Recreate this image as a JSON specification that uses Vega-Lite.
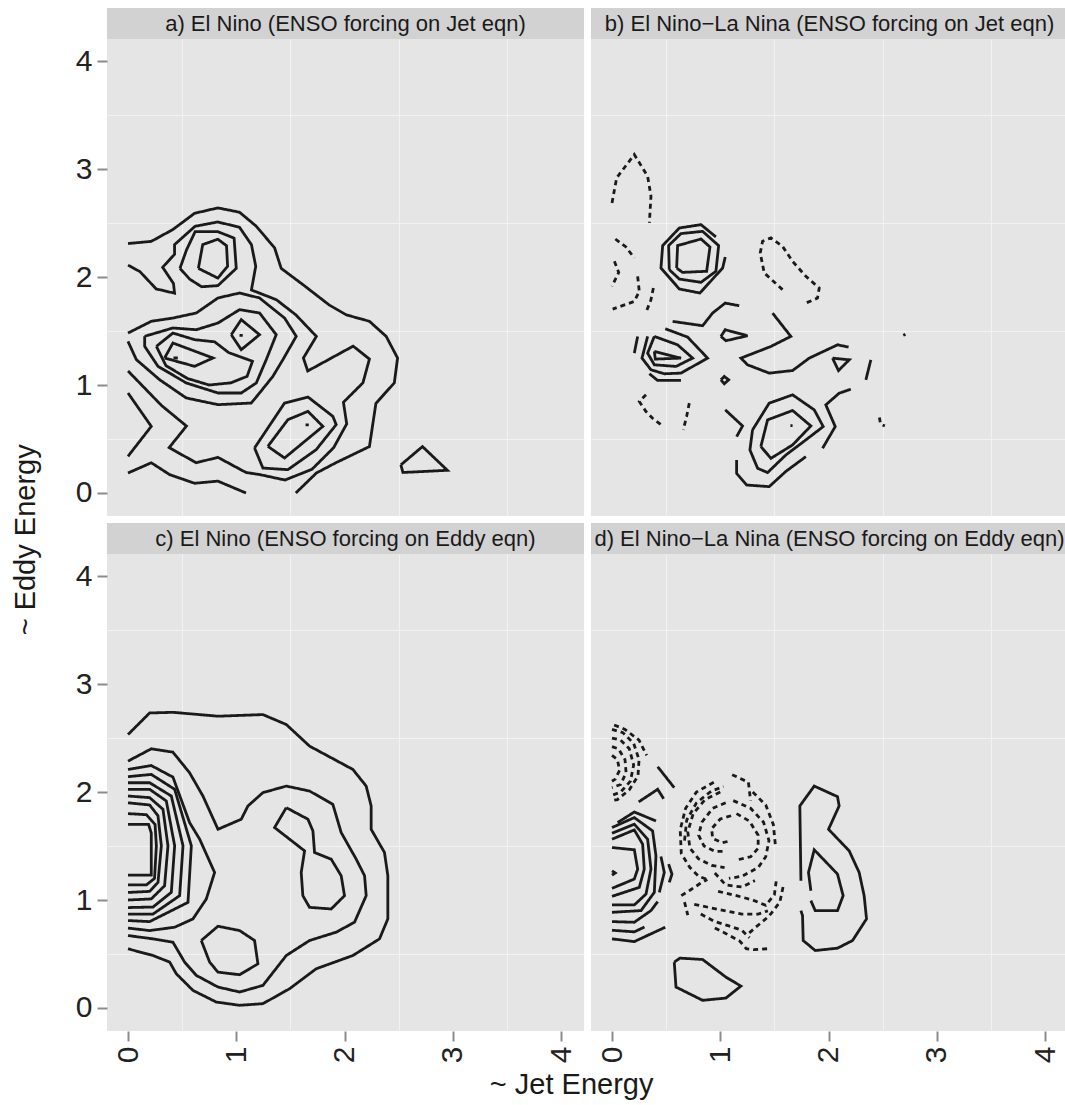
{
"$schema":"https://vega.github.io/schema/vega-lite/v6.json",
"background":"white",
"padding":{"left":12,"top":8,"right":0,"bottom":0},
"autosize":{"type":"pad"},
"config":{
 "view":{"stroke":null,"fill":"#e5e5e5"},
 "axis":{"domain":false,"grid":true,"gridColor":"#ffffff","gridWidth":2,"labelFont":"Liberation Sans","labelFontSize":30,"labelColor":"#222222","tickColor":"#8c8c8c","tickSize":10,"tickWidth":2,"labelPadding":5,"labelOverlap":false,"labelFlush":false},
 "axisX":{"labelAngle":270},
 "axisY":{"labelAngle":0},
 "title":{"font":"Liberation Sans","fontSize":29,"fontWeight":"normal","color":"#1a1a1a","anchor":"middle"}
},
"title":{"text":"~ Eddy Energy","orient":"left","offset":34,"anchor":"middle","dx":14},
"vconcat":[{
 "title":{"text":"~ Jet Energy","orient":"bottom","offset":8,"anchor":"middle"},
 "spacing":7,
 "vconcat":[
  {"spacing":7,"hconcat":[
   {"spacing":0,"vconcat":[
    {"width":477,"height":31,"view":{"fill":"#d2d2d2","stroke":null},"data":{"values":[{"t":"a) El Nino (ENSO forcing on Jet eqn)"}]},"mark":{"type":"text","font":"Liberation Sans","fontSize":22,"color":"#1a1a1a"},"encoding":{"text":{"field":"t","type":"nominal"}}},
    {"width":477,"height":477,"data":{"name":"c"},"transform":[{"filter":"datum.p=='a'"}],
     "layer":[
      {"mark":{"type":"point","opacity":0},"encoding":{
        "x":{"field":"x","type":"quantitative","scale":{"domain":[-0.194,4.212],"nice":false,"zero":false},"axis":{"orient":"top","values":[0.5,1.5,2.5,3.5],"labels":false,"ticks":false,"gridColor":"#f2f2f2","gridWidth":1,"title":null}},
        "y":{"field":"y","type":"quantitative","scale":{"domain":[-0.213,4.204],"nice":false,"zero":false},"axis":{"orient":"right","values":[0.5,1.5,2.5,3.5],"labels":false,"ticks":false,"gridColor":"#f2f2f2","gridWidth":1,"title":null}}}},
      {"mark":{"type":"line","color":"#1a1a1a","strokeWidth":2.8},"encoding":{
        "x":{"field":"x","type":"quantitative","scale":{"domain":[-0.194,4.212],"nice":false,"zero":false},"axis":{"orient":"bottom","values":[0,1,2,3,4],"labels":false,"ticks":false,"title":null}},
        "y":{"field":"y","type":"quantitative","scale":{"domain":[-0.213,4.204],"nice":false,"zero":false},"axis":{"orient":"left","values":[0,1,2,3,4],"title":null}},
        "detail":{"field":"g","type":"nominal"},
        "order":{"value":null},
        "strokeDash":{"field":"k","type":"nominal","scale":{"domain":["s","d"],"range":[[1,0],[5,4]]},"legend":null}}}
     ],
     "resolve":{"axis":{"x":"independent","y":"independent"}}}
   ]},
   {"spacing":0,"vconcat":[
    {"width":477,"height":31,"view":{"fill":"#d2d2d2","stroke":null},"data":{"values":[{"t":"b) El Nino−La Nina (ENSO forcing on Jet eqn)"}]},"mark":{"type":"text","font":"Liberation Sans","fontSize":22,"color":"#1a1a1a"},"encoding":{"text":{"field":"t","type":"nominal"}}},
    {"width":477,"height":477,"data":{"name":"c"},"transform":[{"filter":"datum.p=='b'"}],
     "layer":[
      {"mark":{"type":"point","opacity":0},"encoding":{
        "x":{"field":"x","type":"quantitative","scale":{"domain":[-0.194,4.212],"nice":false,"zero":false},"axis":{"orient":"top","values":[0.5,1.5,2.5,3.5],"labels":false,"ticks":false,"gridColor":"#f2f2f2","gridWidth":1,"title":null}},
        "y":{"field":"y","type":"quantitative","scale":{"domain":[-0.213,4.204],"nice":false,"zero":false},"axis":{"orient":"right","values":[0.5,1.5,2.5,3.5],"labels":false,"ticks":false,"gridColor":"#f2f2f2","gridWidth":1,"title":null}}}},
      {"mark":{"type":"line","color":"#1a1a1a","strokeWidth":2.8},"encoding":{
        "x":{"field":"x","type":"quantitative","scale":{"domain":[-0.194,4.212],"nice":false,"zero":false},"axis":{"orient":"bottom","values":[0,1,2,3,4],"labels":false,"ticks":false,"title":null}},
        "y":{"field":"y","type":"quantitative","scale":{"domain":[-0.213,4.204],"nice":false,"zero":false},"axis":{"orient":"left","values":[0,1,2,3,4],"labels":false,"ticks":false,"title":null}},
        "detail":{"field":"g","type":"nominal"},
        "order":{"value":null},
        "strokeDash":{"field":"k","type":"nominal","scale":{"domain":["s","d"],"range":[[1,0],[5,4]]},"legend":null}}}
     ],
     "resolve":{"axis":{"x":"independent","y":"independent"}}}
   ]}
  ]},
  {"spacing":7,"hconcat":[
   {"spacing":0,"vconcat":[
    {"width":477,"height":31,"view":{"fill":"#d2d2d2","stroke":null},"data":{"values":[{"t":"c) El Nino (ENSO forcing on Eddy eqn)"}]},"mark":{"type":"text","font":"Liberation Sans","fontSize":22,"color":"#1a1a1a"},"encoding":{"text":{"field":"t","type":"nominal"}}},
    {"width":477,"height":477,"data":{"name":"c"},"transform":[{"filter":"datum.p=='c'"}],
     "layer":[
      {"mark":{"type":"point","opacity":0},"encoding":{
        "x":{"field":"x","type":"quantitative","scale":{"domain":[-0.194,4.212],"nice":false,"zero":false},"axis":{"orient":"top","values":[0.5,1.5,2.5,3.5],"labels":false,"ticks":false,"gridColor":"#f2f2f2","gridWidth":1,"title":null}},
        "y":{"field":"y","type":"quantitative","scale":{"domain":[-0.213,4.204],"nice":false,"zero":false},"axis":{"orient":"right","values":[0.5,1.5,2.5,3.5],"labels":false,"ticks":false,"gridColor":"#f2f2f2","gridWidth":1,"title":null}}}},
      {"mark":{"type":"line","color":"#1a1a1a","strokeWidth":2.8},"encoding":{
        "x":{"field":"x","type":"quantitative","scale":{"domain":[-0.194,4.212],"nice":false,"zero":false},"axis":{"orient":"bottom","values":[0,1,2,3,4],"title":null}},
        "y":{"field":"y","type":"quantitative","scale":{"domain":[-0.213,4.204],"nice":false,"zero":false},"axis":{"orient":"left","values":[0,1,2,3,4],"title":null}},
        "detail":{"field":"g","type":"nominal"},
        "order":{"value":null},
        "strokeDash":{"field":"k","type":"nominal","scale":{"domain":["s","d"],"range":[[1,0],[5,4]]},"legend":null}}}
     ],
     "resolve":{"axis":{"x":"independent","y":"independent"}}}
   ]},
   {"spacing":0,"vconcat":[
    {"width":477,"height":31,"view":{"fill":"#d2d2d2","stroke":null},"data":{"values":[{"t":"d) El Nino−La Nina (ENSO forcing on Eddy eqn)"}]},"mark":{"type":"text","font":"Liberation Sans","fontSize":22,"color":"#1a1a1a"},"encoding":{"text":{"field":"t","type":"nominal"}}},
    {"width":477,"height":477,"data":{"name":"c"},"transform":[{"filter":"datum.p=='d'"}],
     "layer":[
      {"mark":{"type":"point","opacity":0},"encoding":{
        "x":{"field":"x","type":"quantitative","scale":{"domain":[-0.194,4.212],"nice":false,"zero":false},"axis":{"orient":"top","values":[0.5,1.5,2.5,3.5],"labels":false,"ticks":false,"gridColor":"#f2f2f2","gridWidth":1,"title":null}},
        "y":{"field":"y","type":"quantitative","scale":{"domain":[-0.213,4.204],"nice":false,"zero":false},"axis":{"orient":"right","values":[0.5,1.5,2.5,3.5],"labels":false,"ticks":false,"gridColor":"#f2f2f2","gridWidth":1,"title":null}}}},
      {"mark":{"type":"line","color":"#1a1a1a","strokeWidth":2.8},"encoding":{
        "x":{"field":"x","type":"quantitative","scale":{"domain":[-0.194,4.212],"nice":false,"zero":false},"axis":{"orient":"bottom","values":[0,1,2,3,4],"title":null}},
        "y":{"field":"y","type":"quantitative","scale":{"domain":[-0.213,4.204],"nice":false,"zero":false},"axis":{"orient":"left","values":[0,1,2,3,4],"labels":false,"ticks":false,"title":null}},
        "detail":{"field":"g","type":"nominal"},
        "order":{"value":null},
        "strokeDash":{"field":"k","type":"nominal","scale":{"domain":["s","d"],"range":[[1,0],[5,4]]},"legend":null}}}
     ],
     "resolve":{"axis":{"x":"independent","y":"independent"}}}
   ]}
  ]}
 ]
}],
"datasets":{"c":[
{"p":"a","g":"a1","k":"s","x":0,"y":2.31},{"p":"a","g":"a1","k":"s","x":0.215,"y":2.33},{"p":"a","g":"a1","k":"s","x":0.415,"y":2.44},{"p":"a","g":"a1","k":"s","x":0.615,"y":2.59},{"p":"a","g":"a1","k":"s","x":0.83,"y":2.64},{"p":"a","g":"a1","k":"s","x":1.03,"y":2.6},{"p":"a","g":"a1","k":"s","x":1.185,"y":2.47},{"p":"a","g":"a1","k":"s","x":1.354,"y":2.27},{"p":"a","g":"a1","k":"s","x":1.415,"y":2.08},{"p":"a","g":"a1","k":"s","x":1.615,"y":1.93},{"p":"a","g":"a1","k":"s","x":1.86,"y":1.74},{"p":"a","g":"a1","k":"s","x":2.015,"y":1.65},{"p":"a","g":"a1","k":"s","x":2.23,"y":1.59},{"p":"a","g":"a1","k":"s","x":2.385,"y":1.45},{"p":"a","g":"a1","k":"s","x":2.49,"y":1.25},{"p":"a","g":"a1","k":"s","x":2.46,"y":1.02},{"p":"a","g":"a1","k":"s","x":2.29,"y":0.83},{"p":"a","g":"a1","k":"s","x":2.23,"y":0.43},{"p":"a","g":"a1","k":"s","x":1.92,"y":0.28},{"p":"a","g":"a1","k":"s","x":1.74,"y":0.185},{"p":"a","g":"a1","k":"s","x":1.55,"y":0},
{"p":"a","g":"a1b","k":"s","x":0,"y":0.185},{"p":"a","g":"a1b","k":"s","x":0.215,"y":0.28},{"p":"a","g":"a1b","k":"s","x":0.385,"y":0.17},{"p":"a","g":"a1b","k":"s","x":0.615,"y":0.09},{"p":"a","g":"a1b","k":"s","x":0.83,"y":0.11},{"p":"a","g":"a1b","k":"s","x":1.09,"y":0},
{"p":"a","g":"av","k":"s","x":0,"y":0.926},{"p":"a","g":"av","k":"s","x":0.215,"y":0.617},{"p":"a","g":"av","k":"s","x":0,"y":0.34},
{"p":"a","g":"a2","k":"s","x":0,"y":2.11},{"p":"a","g":"a2","k":"s","x":0.11,"y":2.05},{"p":"a","g":"a2","k":"s","x":0.26,"y":1.89},{"p":"a","g":"a2","k":"s","x":0.43,"y":1.85},{"p":"a","g":"a2","k":"s","x":0.42,"y":1.94},{"p":"a","g":"a2","k":"s","x":0.32,"y":2.09},{"p":"a","g":"a2","k":"s","x":0.43,"y":2.21},{"p":"a","g":"a2","k":"s","x":0.43,"y":2.3},{"p":"a","g":"a2","k":"s","x":0.62,"y":2.47},{"p":"a","g":"a2","k":"s","x":0.83,"y":2.51},{"p":"a","g":"a2","k":"s","x":1.03,"y":2.46},{"p":"a","g":"a2","k":"s","x":1.14,"y":2.3},{"p":"a","g":"a2","k":"s","x":1.18,"y":2.1},{"p":"a","g":"a2","k":"s","x":1.14,"y":1.88},{"p":"a","g":"a2","k":"s","x":1.37,"y":1.79},{"p":"a","g":"a2","k":"s","x":1.55,"y":1.65},{"p":"a","g":"a2","k":"s","x":1.74,"y":1.45},{"p":"a","g":"a2","k":"s","x":1.62,"y":1.25},{"p":"a","g":"a2","k":"s","x":1.66,"y":1.13},{"p":"a","g":"a2","k":"s","x":2.08,"y":1.36},{"p":"a","g":"a2","k":"s","x":2.23,"y":1.24},{"p":"a","g":"a2","k":"s","x":2.17,"y":1.02},{"p":"a","g":"a2","k":"s","x":1.99,"y":0.84},{"p":"a","g":"a2","k":"s","x":2.02,"y":0.64},{"p":"a","g":"a2","k":"s","x":1.9,"y":0.42},{"p":"a","g":"a2","k":"s","x":1.7,"y":0.22},{"p":"a","g":"a2","k":"s","x":1.45,"y":0.12},{"p":"a","g":"a2","k":"s","x":1.22,"y":0.17},{"p":"a","g":"a2","k":"s","x":1.09,"y":0.19},{"p":"a","g":"a2","k":"s","x":0.83,"y":0.33},{"p":"a","g":"a2","k":"s","x":0.63,"y":0.28},{"p":"a","g":"a2","k":"s","x":0.38,"y":0.42},{"p":"a","g":"a2","k":"s","x":0.54,"y":0.62},{"p":"a","g":"a2","k":"s","x":0.31,"y":0.81},{"p":"a","g":"a2","k":"s","x":0,"y":1.13},
{"p":"a","g":"a3","k":"s","x":0.48,"y":2.08},{"p":"a","g":"a3","k":"s","x":0.54,"y":2.25},{"p":"a","g":"a3","k":"s","x":0.62,"y":2.42},{"p":"a","g":"a3","k":"s","x":0.83,"y":2.42},{"p":"a","g":"a3","k":"s","x":0.98,"y":2.36},{"p":"a","g":"a3","k":"s","x":1,"y":2.08},{"p":"a","g":"a3","k":"s","x":0.83,"y":1.92},{"p":"a","g":"a3","k":"s","x":0.68,"y":1.91},{"p":"a","g":"a3","k":"s","x":0.57,"y":1.98},{"p":"a","g":"a3","k":"s","x":0.48,"y":2.08},
{"p":"a","g":"a4","k":"s","x":0.65,"y":2.08},{"p":"a","g":"a4","k":"s","x":0.69,"y":2.3},{"p":"a","g":"a4","k":"s","x":0.83,"y":2.35},{"p":"a","g":"a4","k":"s","x":0.91,"y":2.29},{"p":"a","g":"a4","k":"s","x":0.92,"y":2.1},{"p":"a","g":"a4","k":"s","x":0.83,"y":1.99},{"p":"a","g":"a4","k":"s","x":0.65,"y":2.08},
{"p":"a","g":"a5","k":"s","x":0,"y":1.481},{"p":"a","g":"a5","k":"s","x":0.215,"y":1.59},{"p":"a","g":"a5","k":"s","x":0.415,"y":1.62},{"p":"a","g":"a5","k":"s","x":0.631,"y":1.667},{"p":"a","g":"a5","k":"s","x":0.831,"y":1.806},{"p":"a","g":"a5","k":"s","x":1.031,"y":1.852},{"p":"a","g":"a5","k":"s","x":1.215,"y":1.806},{"p":"a","g":"a5","k":"s","x":1.446,"y":1.62},{"p":"a","g":"a5","k":"s","x":1.554,"y":1.451},{"p":"a","g":"a5","k":"s","x":1.431,"y":1.235},{"p":"a","g":"a5","k":"s","x":1.338,"y":1.08},{"p":"a","g":"a5","k":"s","x":1.215,"y":0.926},{"p":"a","g":"a5","k":"s","x":1.138,"y":0.833},{"p":"a","g":"a5","k":"s","x":0.831,"y":0.818},{"p":"a","g":"a5","k":"s","x":0.538,"y":0.88},{"p":"a","g":"a5","k":"s","x":0.292,"y":1.049},{"p":"a","g":"a5","k":"s","x":0.077,"y":1.235},{"p":"a","g":"a5","k":"s","x":0,"y":1.404},
{"p":"a","g":"a6","k":"s","x":0.154,"y":1.451},{"p":"a","g":"a6","k":"s","x":0.415,"y":1.528},{"p":"a","g":"a6","k":"s","x":0.631,"y":1.512},{"p":"a","g":"a6","k":"s","x":0.831,"y":1.574},{"p":"a","g":"a6","k":"s","x":1.031,"y":1.698},{"p":"a","g":"a6","k":"s","x":1.215,"y":1.667},{"p":"a","g":"a6","k":"s","x":1.369,"y":1.466},{"p":"a","g":"a6","k":"s","x":1.277,"y":1.235},{"p":"a","g":"a6","k":"s","x":1.185,"y":1.019},{"p":"a","g":"a6","k":"s","x":1.046,"y":0.926},{"p":"a","g":"a6","k":"s","x":0.831,"y":0.926},{"p":"a","g":"a6","k":"s","x":0.538,"y":1.019},{"p":"a","g":"a6","k":"s","x":0.277,"y":1.173},{"p":"a","g":"a6","k":"s","x":0.154,"y":1.358},{"p":"a","g":"a6","k":"s","x":0.154,"y":1.451},
{"p":"a","g":"a7","k":"s","x":0.262,"y":1.358},{"p":"a","g":"a7","k":"s","x":0.415,"y":1.481},{"p":"a","g":"a7","k":"s","x":0.615,"y":1.42},{"p":"a","g":"a7","k":"s","x":0.8,"y":1.4},{"p":"a","g":"a7","k":"s","x":0.93,"y":1.3},{"p":"a","g":"a7","k":"s","x":1.15,"y":1.22},{"p":"a","g":"a7","k":"s","x":1.1,"y":1.08},{"p":"a","g":"a7","k":"s","x":0.95,"y":1.02},{"p":"a","g":"a7","k":"s","x":0.75,"y":1},{"p":"a","g":"a7","k":"s","x":0.55,"y":1.06},{"p":"a","g":"a7","k":"s","x":0.35,"y":1.18},{"p":"a","g":"a7","k":"s","x":0.262,"y":1.358},
{"p":"a","g":"a8","k":"s","x":0.338,"y":1.25},{"p":"a","g":"a8","k":"s","x":0.415,"y":1.389},{"p":"a","g":"a8","k":"s","x":0.785,"y":1.25},{"p":"a","g":"a8","k":"s","x":0.615,"y":1.173},{"p":"a","g":"a8","k":"s","x":0.338,"y":1.25},
{"p":"a","g":"a9","k":"s","x":0.954,"y":1.466},{"p":"a","g":"a9","k":"s","x":1.046,"y":1.605},{"p":"a","g":"a9","k":"s","x":1.215,"y":1.466},{"p":"a","g":"a9","k":"s","x":1.046,"y":1.327},{"p":"a","g":"a9","k":"s","x":0.954,"y":1.466},
{"p":"a","g":"a10","k":"s","x":0.42,"y":1.25},{"p":"a","g":"a10","k":"s","x":0.46,"y":1.25},
{"p":"a","g":"a11","k":"s","x":1.03,"y":1.46},{"p":"a","g":"a11","k":"s","x":1.06,"y":1.46},
{"p":"a","g":"a12","k":"s","x":1.292,"y":0.432},{"p":"a","g":"a12","k":"s","x":1.477,"y":0.679},{"p":"a","g":"a12","k":"s","x":1.662,"y":0.756},{"p":"a","g":"a12","k":"s","x":1.8,"y":0.617},{"p":"a","g":"a12","k":"s","x":1.446,"y":0.324},{"p":"a","g":"a12","k":"s","x":1.292,"y":0.432},
{"p":"a","g":"a13","k":"s","x":1.169,"y":0.417},{"p":"a","g":"a13","k":"s","x":1.446,"y":0.833},{"p":"a","g":"a13","k":"s","x":1.662,"y":0.889},{"p":"a","g":"a13","k":"s","x":1.892,"y":0.71},{"p":"a","g":"a13","k":"s","x":1.923,"y":0.633},{"p":"a","g":"a13","k":"s","x":1.738,"y":0.401},{"p":"a","g":"a13","k":"s","x":1.477,"y":0.216},{"p":"a","g":"a13","k":"s","x":1.246,"y":0.231},{"p":"a","g":"a13","k":"s","x":1.169,"y":0.417},
{"p":"a","g":"a15","k":"s","x":1.64,"y":0.63},{"p":"a","g":"a15","k":"s","x":1.67,"y":0.63},
{"p":"a","g":"a16","k":"s","x":2.52,"y":0.26},{"p":"a","g":"a16","k":"s","x":2.72,"y":0.43},{"p":"a","g":"a16","k":"s","x":2.95,"y":0.21},{"p":"a","g":"a16","k":"s","x":2.54,"y":0.19},{"p":"a","g":"a16","k":"s","x":2.52,"y":0.26},

{"p":"b","g":"bd1","k":"d","x":0,"y":2.686},{"p":"b","g":"bd1","k":"d","x":0.043,"y":2.918},{"p":"b","g":"bd1","k":"d","x":0.206,"y":3.134},{"p":"b","g":"bd1","k":"d","x":0.329,"y":2.933},{"p":"b","g":"bd1","k":"d","x":0.36,"y":2.748},{"p":"b","g":"bd1","k":"d","x":0.345,"y":2.501},
{"p":"b","g":"bd2","k":"d","x":0.031,"y":2.352},{"p":"b","g":"bd2","k":"d","x":0.129,"y":2.278},{"p":"b","g":"bd2","k":"d","x":0.206,"y":2.176},
{"p":"b","g":"bd3","k":"d","x":0.022,"y":2.145},{"p":"b","g":"bd3","k":"d","x":0.062,"y":2.043},{"p":"b","g":"bd3","k":"d","x":0,"y":1.913},
{"p":"b","g":"bd4","k":"d","x":0.237,"y":2.006},{"p":"b","g":"bd4","k":"d","x":0.252,"y":1.867},{"p":"b","g":"bd4","k":"d","x":0.206,"y":1.774},{"p":"b","g":"bd4","k":"d","x":0.006,"y":1.703},
{"p":"b","g":"bd5","k":"d","x":0.382,"y":1.898},{"p":"b","g":"bd5","k":"d","x":0.36,"y":1.79},{"p":"b","g":"bd5","k":"d","x":0.314,"y":1.672},
{"p":"b","g":"bd6","k":"d","x":1.575,"y":1.883},{"p":"b","g":"bd6","k":"d","x":1.406,"y":2.038},{"p":"b","g":"bd6","k":"d","x":1.369,"y":2.223},{"p":"b","g":"bd6","k":"d","x":1.391,"y":2.331},{"p":"b","g":"bd6","k":"d","x":1.468,"y":2.362},{"p":"b","g":"bd6","k":"d","x":1.575,"y":2.284},{"p":"b","g":"bd6","k":"d","x":1.668,"y":2.145},{"p":"b","g":"bd6","k":"d","x":1.791,"y":2.006},{"p":"b","g":"bd6","k":"d","x":1.914,"y":1.898},{"p":"b","g":"bd6","k":"d","x":1.898,"y":1.805},{"p":"b","g":"bd6","k":"d","x":1.791,"y":1.759},
{"p":"b","g":"bd7","k":"d","x":0.314,"y":0.909},{"p":"b","g":"bd7","k":"d","x":0.252,"y":0.847},{"p":"b","g":"bd7","k":"d","x":0.314,"y":0.754},{"p":"b","g":"bd7","k":"d","x":0.375,"y":0.692},{"p":"b","g":"bd7","k":"d","x":0.468,"y":0.621},
{"p":"b","g":"bd8","k":"d","x":0.714,"y":0.832},{"p":"b","g":"bd8","k":"d","x":0.689,"y":0.708},{"p":"b","g":"bd8","k":"d","x":0.658,"y":0.584},
{"p":"b","g":"bd9","k":"d","x":2.47,"y":0.7},{"p":"b","g":"bd9","k":"d","x":2.48,"y":0.64},{"p":"b","g":"bd9","k":"d","x":2.52,"y":0.62},
{"p":"b","g":"bs1","k":"s","x":0.96,"y":2.371},{"p":"b","g":"bs1","k":"s","x":0.822,"y":2.485},{"p":"b","g":"bs1","k":"s","x":0.622,"y":2.454},{"p":"b","g":"bs1","k":"s","x":0.468,"y":2.291},{"p":"b","g":"bs1","k":"s","x":0.452,"y":2.083},{"p":"b","g":"bs1","k":"s","x":0.622,"y":1.889},{"p":"b","g":"bs1","k":"s","x":0.812,"y":1.852},{"p":"b","g":"bs1","k":"s","x":1.022,"y":2.083},{"p":"b","g":"bs1","k":"s","x":1.046,"y":2.185},
{"p":"b","g":"bs2","k":"s","x":0.529,"y":2.068},{"p":"b","g":"bs2","k":"s","x":0.523,"y":2.291},{"p":"b","g":"bs2","k":"s","x":0.637,"y":2.402},{"p":"b","g":"bs2","k":"s","x":0.837,"y":2.423},{"p":"b","g":"bs2","k":"s","x":0.985,"y":2.291},{"p":"b","g":"bs2","k":"s","x":0.96,"y":2.053},{"p":"b","g":"bs2","k":"s","x":0.822,"y":1.951},{"p":"b","g":"bs2","k":"s","x":0.622,"y":1.981},{"p":"b","g":"bs2","k":"s","x":0.529,"y":2.068},
{"p":"b","g":"bs3","k":"s","x":0.597,"y":2.083},{"p":"b","g":"bs3","k":"s","x":0.606,"y":2.291},{"p":"b","g":"bs3","k":"s","x":0.822,"y":2.352},{"p":"b","g":"bs3","k":"s","x":0.905,"y":2.278},{"p":"b","g":"bs3","k":"s","x":0.874,"y":2.053},{"p":"b","g":"bs3","k":"s","x":0.652,"y":2.043},{"p":"b","g":"bs3","k":"s","x":0.597,"y":2.083},
{"p":"b","g":"bs4","k":"s","x":0.56,"y":1.589},{"p":"b","g":"bs4","k":"s","x":0.837,"y":1.549},{"p":"b","g":"bs4","k":"s","x":0.929,"y":1.666},{"p":"b","g":"bs4","k":"s","x":1.046,"y":1.759},{"p":"b","g":"bs4","k":"s","x":1.175,"y":1.734},
{"p":"b","g":"bs5","k":"s","x":1.006,"y":1.45},{"p":"b","g":"bs5","k":"s","x":1.046,"y":1.512},{"p":"b","g":"bs5","k":"s","x":1.252,"y":1.456},{"p":"b","g":"bs5","k":"s","x":1.052,"y":1.41},{"p":"b","g":"bs5","k":"s","x":1.006,"y":1.45},
{"p":"b","g":"bs6","k":"s","x":1.483,"y":1.666},{"p":"b","g":"bs6","k":"s","x":1.652,"y":1.45},{"p":"b","g":"bs6","k":"s","x":1.468,"y":1.357},{"p":"b","g":"bs6","k":"s","x":1.191,"y":1.249},{"p":"b","g":"bs6","k":"s","x":1.252,"y":1.187},{"p":"b","g":"bs6","k":"s","x":1.452,"y":1.11},{"p":"b","g":"bs6","k":"s","x":1.668,"y":1.134},{"p":"b","g":"bs6","k":"s","x":1.822,"y":1.249},{"p":"b","g":"bs6","k":"s","x":2.083,"y":1.372},{"p":"b","g":"bs6","k":"s","x":2.185,"y":1.351},
{"p":"b","g":"bs7","k":"s","x":2.037,"y":1.249},{"p":"b","g":"bs7","k":"s","x":2.191,"y":1.233},{"p":"b","g":"bs7","k":"s","x":2.092,"y":1.134},{"p":"b","g":"bs7","k":"s","x":2.037,"y":1.249},
{"p":"b","g":"bs8","k":"s","x":2.391,"y":1.233},{"p":"b","g":"bs8","k":"s","x":2.345,"y":1.048},
{"p":"b","g":"bs9","k":"s","x":0.206,"y":1.295},{"p":"b","g":"bs9","k":"s","x":0.237,"y":1.45},
{"p":"b","g":"bs10","k":"s","x":0.329,"y":1.45},{"p":"b","g":"bs10","k":"s","x":0.277,"y":1.249},{"p":"b","g":"bs10","k":"s","x":0.36,"y":1.141},{"p":"b","g":"bs10","k":"s","x":0.483,"y":1.104},{"p":"b","g":"bs10","k":"s","x":0.637,"y":1.11},{"p":"b","g":"bs10","k":"s","x":0.883,"y":1.249},{"p":"b","g":"bs10","k":"s","x":0.698,"y":1.444},{"p":"b","g":"bs10","k":"s","x":0.492,"y":1.521},
{"p":"b","g":"bs11","k":"s","x":0.391,"y":1.45},{"p":"b","g":"bs11","k":"s","x":0.329,"y":1.295},{"p":"b","g":"bs11","k":"s","x":0.391,"y":1.187},{"p":"b","g":"bs11","k":"s","x":0.591,"y":1.172},{"p":"b","g":"bs11","k":"s","x":0.745,"y":1.249},{"p":"b","g":"bs11","k":"s","x":0.606,"y":1.372},{"p":"b","g":"bs11","k":"s","x":0.391,"y":1.45},
{"p":"b","g":"bs12","k":"s","x":0.391,"y":1.311},{"p":"b","g":"bs12","k":"s","x":0.4,"y":1.24},{"p":"b","g":"bs12","k":"s","x":0.637,"y":1.249},{"p":"b","g":"bs12","k":"s","x":0.391,"y":1.311},
{"p":"b","g":"bs13","k":"s","x":0.345,"y":1.104},{"p":"b","g":"bs13","k":"s","x":0.422,"y":1.042},{"p":"b","g":"bs13","k":"s","x":0.637,"y":1.042},
{"p":"b","g":"bs14","k":"s","x":1.006,"y":1.048},{"p":"b","g":"bs14","k":"s","x":1.037,"y":1.079},{"p":"b","g":"bs14","k":"s","x":1.077,"y":1.048},{"p":"b","g":"bs14","k":"s","x":1.037,"y":1.011},{"p":"b","g":"bs14","k":"s","x":1.006,"y":1.048},
{"p":"b","g":"bs15","k":"s","x":1.046,"y":0.77},{"p":"b","g":"bs15","k":"s","x":1.206,"y":0.621},{"p":"b","g":"bs15","k":"s","x":1.151,"y":0.522},
{"p":"b","g":"bs16","k":"s","x":1.375,"y":0.43},{"p":"b","g":"bs16","k":"s","x":1.437,"y":0.677},{"p":"b","g":"bs16","k":"s","x":1.668,"y":0.764},{"p":"b","g":"bs16","k":"s","x":1.837,"y":0.621},{"p":"b","g":"bs16","k":"s","x":1.668,"y":0.445},{"p":"b","g":"bs16","k":"s","x":1.468,"y":0.321},{"p":"b","g":"bs16","k":"s","x":1.375,"y":0.43},
{"p":"b","g":"bs17","k":"s","x":1.298,"y":0.584},{"p":"b","g":"bs17","k":"s","x":1.452,"y":0.832},{"p":"b","g":"bs17","k":"s","x":1.668,"y":0.909},{"p":"b","g":"bs17","k":"s","x":1.868,"y":0.77},{"p":"b","g":"bs17","k":"s","x":1.951,"y":0.615},{"p":"b","g":"bs17","k":"s","x":1.791,"y":0.492},{"p":"b","g":"bs17","k":"s","x":1.606,"y":0.352},{"p":"b","g":"bs17","k":"s","x":1.437,"y":0.189},{"p":"b","g":"bs17","k":"s","x":1.345,"y":0.229},{"p":"b","g":"bs17","k":"s","x":1.274,"y":0.399},{"p":"b","g":"bs17","k":"s","x":1.298,"y":0.584},
{"p":"b","g":"bs18","k":"s","x":1.648,"y":0.624},{"p":"b","g":"bs18","k":"s","x":1.668,"y":0.624},
{"p":"b","g":"bs19","k":"s","x":1.151,"y":0.306},{"p":"b","g":"bs19","k":"s","x":1.151,"y":0.182},{"p":"b","g":"bs19","k":"s","x":1.243,"y":0.074},{"p":"b","g":"bs19","k":"s","x":1.452,"y":0.059},{"p":"b","g":"bs19","k":"s","x":1.606,"y":0.2},{"p":"b","g":"bs19","k":"s","x":1.791,"y":0.337},
{"p":"b","g":"bs20","k":"s","x":2.206,"y":0.961},{"p":"b","g":"bs20","k":"s","x":2.098,"y":0.924},{"p":"b","g":"bs20","k":"s","x":1.975,"y":0.816},{"p":"b","g":"bs20","k":"s","x":2.062,"y":0.615},{"p":"b","g":"bs20","k":"s","x":1.945,"y":0.414},
{"p":"b","g":"bs21","k":"s","x":2.69,"y":1.46},{"p":"b","g":"bs21","k":"s","x":2.71,"y":1.47},

{"p":"c","g":"c1","k":"s","x":0,"y":2.532},{"p":"c","g":"c1","k":"s","x":0.2,"y":2.732},{"p":"c","g":"c1","k":"s","x":0.415,"y":2.738},{"p":"c","g":"c1","k":"s","x":0.831,"y":2.702},{"p":"c","g":"c1","k":"s","x":1.246,"y":2.717},{"p":"c","g":"c1","k":"s","x":1.462,"y":2.625},{"p":"c","g":"c1","k":"s","x":1.677,"y":2.425},{"p":"c","g":"c1","k":"s","x":2.077,"y":2.209},{"p":"c","g":"c1","k":"s","x":2.2,"y":2.055},{"p":"c","g":"c1","k":"s","x":2.246,"y":1.871},{"p":"c","g":"c1","k":"s","x":2.246,"y":1.655},{"p":"c","g":"c1","k":"s","x":2.369,"y":1.44},{"p":"c","g":"c1","k":"s","x":2.4,"y":1.225},{"p":"c","g":"c1","k":"s","x":2.4,"y":0.825},{"p":"c","g":"c1","k":"s","x":2.323,"y":0.64},{"p":"c","g":"c1","k":"s","x":2.077,"y":0.486},{"p":"c","g":"c1","k":"s","x":1.738,"y":0.363},{"p":"c","g":"c1","k":"s","x":1.492,"y":0.178},{"p":"c","g":"c1","k":"s","x":1.246,"y":0.04},{"p":"c","g":"c1","k":"s","x":1.031,"y":0.025},{"p":"c","g":"c1","k":"s","x":0.815,"y":0.055},{"p":"c","g":"c1","k":"s","x":0.6,"y":0.163},{"p":"c","g":"c1","k":"s","x":0.446,"y":0.317},{"p":"c","g":"c1","k":"s","x":0.385,"y":0.425},{"p":"c","g":"c1","k":"s","x":0.231,"y":0.486},{"p":"c","g":"c1","k":"s","x":0,"y":0.548},
{"p":"c","g":"c2","k":"s","x":0,"y":2.286},{"p":"c","g":"c2","k":"s","x":0.215,"y":2.4},{"p":"c","g":"c2","k":"s","x":0.415,"y":2.369},{"p":"c","g":"c2","k":"s","x":0.569,"y":2.178},{"p":"c","g":"c2","k":"s","x":0.692,"y":1.963},{"p":"c","g":"c2","k":"s","x":0.831,"y":1.655},{"p":"c","g":"c2","k":"s","x":1.046,"y":1.748},{"p":"c","g":"c2","k":"s","x":1.108,"y":1.871},{"p":"c","g":"c2","k":"s","x":1.246,"y":1.994},{"p":"c","g":"c2","k":"s","x":1.462,"y":2.055},{"p":"c","g":"c2","k":"s","x":1.677,"y":2.009},{"p":"c","g":"c2","k":"s","x":1.892,"y":1.886},{"p":"c","g":"c2","k":"s","x":1.969,"y":1.625},{"p":"c","g":"c2","k":"s","x":2.108,"y":1.378},{"p":"c","g":"c2","k":"s","x":2.185,"y":1.225},{"p":"c","g":"c2","k":"s","x":2.2,"y":1.04},{"p":"c","g":"c2","k":"s","x":2.092,"y":0.794},{"p":"c","g":"c2","k":"s","x":1.923,"y":0.702},{"p":"c","g":"c2","k":"s","x":1.677,"y":0.625},{"p":"c","g":"c2","k":"s","x":1.462,"y":0.486},{"p":"c","g":"c2","k":"s","x":1.246,"y":0.209},{"p":"c","g":"c2","k":"s","x":1.031,"y":0.148},{"p":"c","g":"c2","k":"s","x":0.831,"y":0.194},{"p":"c","g":"c2","k":"s","x":0.631,"y":0.302},{"p":"c","g":"c2","k":"s","x":0.523,"y":0.425},{"p":"c","g":"c2","k":"s","x":0.415,"y":0.609},{"p":"c","g":"c2","k":"s","x":0.231,"y":0.64},{"p":"c","g":"c2","k":"s","x":0,"y":0.671},
{"p":"c","g":"c3","k":"s","x":1.462,"y":1.855},{"p":"c","g":"c3","k":"s","x":1.354,"y":1.671},{"p":"c","g":"c3","k":"s","x":1.631,"y":1.455},{"p":"c","g":"c3","k":"s","x":1.6,"y":1.255},{"p":"c","g":"c3","k":"s","x":1.615,"y":1.04},{"p":"c","g":"c3","k":"s","x":1.677,"y":0.932},{"p":"c","g":"c3","k":"s","x":1.877,"y":0.917},{"p":"c","g":"c3","k":"s","x":2,"y":1.04},{"p":"c","g":"c3","k":"s","x":1.969,"y":1.225},{"p":"c","g":"c3","k":"s","x":1.877,"y":1.378},{"p":"c","g":"c3","k":"s","x":1.723,"y":1.44},{"p":"c","g":"c3","k":"s","x":1.708,"y":1.64},{"p":"c","g":"c3","k":"s","x":1.662,"y":1.748},{"p":"c","g":"c3","k":"s","x":1.462,"y":1.855},
{"p":"c","g":"c4","k":"s","x":0.677,"y":0.625},{"p":"c","g":"c4","k":"s","x":0.831,"y":0.757},{"p":"c","g":"c4","k":"s","x":1.031,"y":0.717},{"p":"c","g":"c4","k":"s","x":1.169,"y":0.625},{"p":"c","g":"c4","k":"s","x":1.2,"y":0.409},{"p":"c","g":"c4","k":"s","x":1.031,"y":0.308},{"p":"c","g":"c4","k":"s","x":0.831,"y":0.332},{"p":"c","g":"c4","k":"s","x":0.754,"y":0.425},{"p":"c","g":"c4","k":"s","x":0.677,"y":0.625},
{"p":"c","g":"c5","k":"s","x":0,"y":2.209},{"p":"c","g":"c5","k":"s","x":0.215,"y":2.245},{"p":"c","g":"c5","k":"s","x":0.415,"y":2.138},{"p":"c","g":"c5","k":"s","x":0.569,"y":1.717},{"p":"c","g":"c5","k":"s","x":0.662,"y":1.563},{"p":"c","g":"c5","k":"s","x":0.8,"y":1.255},{"p":"c","g":"c5","k":"s","x":0.723,"y":1.009},{"p":"c","g":"c5","k":"s","x":0.6,"y":0.825},{"p":"c","g":"c5","k":"s","x":0.431,"y":0.748},{"p":"c","g":"c5","k":"s","x":0.2,"y":0.717},{"p":"c","g":"c5","k":"s","x":0,"y":0.74},
{"p":"c","g":"c6","k":"s","x":0,"y":2.142},{"p":"c","g":"c6","k":"s","x":0.215,"y":2.163},{"p":"c","g":"c6","k":"s","x":0.431,"y":2.025},{"p":"c","g":"c6","k":"s","x":0.585,"y":1.502},{"p":"c","g":"c6","k":"s","x":0.554,"y":0.978},{"p":"c","g":"c6","k":"s","x":0.2,"y":0.8},{"p":"c","g":"c6","k":"s","x":0,"y":0.81},
{"p":"c","g":"c7","k":"s","x":0,"y":2.086},{"p":"c","g":"c7","k":"s","x":0.2,"y":2.086},{"p":"c","g":"c7","k":"s","x":0.4,"y":1.963},{"p":"c","g":"c7","k":"s","x":0.508,"y":1.502},{"p":"c","g":"c7","k":"s","x":0.477,"y":1.04},{"p":"c","g":"c7","k":"s","x":0.231,"y":0.87},{"p":"c","g":"c7","k":"s","x":0,"y":0.87},
{"p":"c","g":"c8","k":"s","x":0,"y":2.025},{"p":"c","g":"c8","k":"s","x":0.2,"y":2.025},{"p":"c","g":"c8","k":"s","x":0.354,"y":1.917},{"p":"c","g":"c8","k":"s","x":0.431,"y":1.502},{"p":"c","g":"c8","k":"s","x":0.4,"y":1.071},{"p":"c","g":"c8","k":"s","x":0.231,"y":0.935},{"p":"c","g":"c8","k":"s","x":0,"y":0.93},
{"p":"c","g":"c9","k":"s","x":0,"y":1.963},{"p":"c","g":"c9","k":"s","x":0.2,"y":1.948},{"p":"c","g":"c9","k":"s","x":0.323,"y":1.84},{"p":"c","g":"c9","k":"s","x":0.369,"y":1.502},{"p":"c","g":"c9","k":"s","x":0.338,"y":1.132},{"p":"c","g":"c9","k":"s","x":0.215,"y":1.01},{"p":"c","g":"c9","k":"s","x":0,"y":1},
{"p":"c","g":"c10","k":"s","x":0,"y":1.9},{"p":"c","g":"c10","k":"s","x":0.2,"y":1.88},{"p":"c","g":"c10","k":"s","x":0.277,"y":1.78},{"p":"c","g":"c10","k":"s","x":0.308,"y":1.502},{"p":"c","g":"c10","k":"s","x":0.277,"y":1.163},{"p":"c","g":"c10","k":"s","x":0.2,"y":1.08},{"p":"c","g":"c10","k":"s","x":0,"y":1.07},
{"p":"c","g":"c11","k":"s","x":0,"y":1.8},{"p":"c","g":"c11","k":"s","x":0.17,"y":1.79},{"p":"c","g":"c11","k":"s","x":0.25,"y":1.7},{"p":"c","g":"c11","k":"s","x":0.262,"y":1.5},{"p":"c","g":"c11","k":"s","x":0.245,"y":1.2},{"p":"c","g":"c11","k":"s","x":0.17,"y":1.14},{"p":"c","g":"c11","k":"s","x":0,"y":1.14},
{"p":"c","g":"c12","k":"s","x":0,"y":1.7},{"p":"c","g":"c12","k":"s","x":0.19,"y":1.7},{"p":"c","g":"c12","k":"s","x":0.215,"y":1.62},{"p":"c","g":"c12","k":"s","x":0.215,"y":1.23},{"p":"c","g":"c12","k":"s","x":0,"y":1.23},

{"p":"d","g":"ds1","k":"s","x":0.422,"y":2.234},{"p":"d","g":"ds1","k":"s","x":0.575,"y":2.04},
{"p":"d","g":"ds2","k":"s","x":0.246,"y":1.908},{"p":"d","g":"ds2","k":"s","x":0.422,"y":2.025},{"p":"d","g":"ds2","k":"s","x":0.477,"y":1.938},
{"p":"d","g":"ds3","k":"s","x":0.052,"y":1.717},{"p":"d","g":"ds3","k":"s","x":0.206,"y":1.815},{"p":"d","g":"ds3","k":"s","x":0.406,"y":1.732},
{"p":"d","g":"ds4","k":"s","x":0,"y":1.671},{"p":"d","g":"ds4","k":"s","x":0.206,"y":1.763},{"p":"d","g":"ds4","k":"s","x":0.375,"y":1.64},{"p":"d","g":"ds4","k":"s","x":0.406,"y":1.409},{"p":"d","g":"ds4","k":"s","x":0.391,"y":1.071},{"p":"d","g":"ds4","k":"s","x":0.268,"y":0.902},{"p":"d","g":"ds4","k":"s","x":0,"y":0.886},
{"p":"d","g":"ds5","k":"s","x":0,"y":1.618},{"p":"d","g":"ds5","k":"s","x":0.206,"y":1.702},{"p":"d","g":"ds5","k":"s","x":0.329,"y":1.563},{"p":"d","g":"ds5","k":"s","x":0.36,"y":1.286},{"p":"d","g":"ds5","k":"s","x":0.314,"y":1.055},{"p":"d","g":"ds5","k":"s","x":0.206,"y":0.954},{"p":"d","g":"ds5","k":"s","x":0,"y":0.954},
{"p":"d","g":"ds6","k":"s","x":0,"y":1.563},{"p":"d","g":"ds6","k":"s","x":0.206,"y":1.649},{"p":"d","g":"ds6","k":"s","x":0.283,"y":1.517},{"p":"d","g":"ds6","k":"s","x":0.298,"y":1.286},{"p":"d","g":"ds6","k":"s","x":0.252,"y":1.117},{"p":"d","g":"ds6","k":"s","x":0,"y":1.034},
{"p":"d","g":"ds7","k":"s","x":0,"y":1.486},{"p":"d","g":"ds7","k":"s","x":0.206,"y":1.465},{"p":"d","g":"ds7","k":"s","x":0.237,"y":1.286},{"p":"d","g":"ds7","k":"s","x":0.206,"y":1.194},{"p":"d","g":"ds7","k":"s","x":0,"y":1.108},
{"p":"d","g":"ds8","k":"s","x":0,"y":1.27},{"p":"d","g":"ds8","k":"s","x":0.03,"y":1.25},{"p":"d","g":"ds8","k":"s","x":0,"y":1.23},
{"p":"d","g":"ds9","k":"s","x":0,"y":0.8},{"p":"d","g":"ds9","k":"s","x":0.206,"y":0.794},{"p":"d","g":"ds9","k":"s","x":0.36,"y":0.902},{"p":"d","g":"ds9","k":"s","x":0.422,"y":0.985},
{"p":"d","g":"ds10","k":"s","x":0,"y":0.72},{"p":"d","g":"ds10","k":"s","x":0.206,"y":0.705},{"p":"d","g":"ds10","k":"s","x":0.3,"y":0.75},
{"p":"d","g":"ds11","k":"s","x":0,"y":0.64},{"p":"d","g":"ds11","k":"s","x":0.206,"y":0.615},{"p":"d","g":"ds11","k":"s","x":0.492,"y":0.748},
{"p":"d","g":"ds12","k":"s","x":0.452,"y":1.403},{"p":"d","g":"ds12","k":"s","x":0.483,"y":1.255},{"p":"d","g":"ds12","k":"s","x":0.437,"y":1.071},
{"p":"d","g":"ds13","k":"s","x":0.523,"y":1.332},{"p":"d","g":"ds13","k":"s","x":0.554,"y":1.24},{"p":"d","g":"ds13","k":"s","x":0.529,"y":1.163},
{"p":"d","g":"ds14","k":"s","x":1.745,"y":1.178},{"p":"d","g":"ds14","k":"s","x":1.735,"y":1.871},{"p":"d","g":"ds14","k":"s","x":1.868,"y":2.055},{"p":"d","g":"ds14","k":"s","x":2.083,"y":1.957},{"p":"d","g":"ds14","k":"s","x":2.098,"y":1.871},{"p":"d","g":"ds14","k":"s","x":2,"y":1.655},{"p":"d","g":"ds14","k":"s","x":2.191,"y":1.455},{"p":"d","g":"ds14","k":"s","x":2.283,"y":1.255},{"p":"d","g":"ds14","k":"s","x":2.329,"y":1.04},{"p":"d","g":"ds14","k":"s","x":2.351,"y":0.825},{"p":"d","g":"ds14","k":"s","x":2.222,"y":0.625},{"p":"d","g":"ds14","k":"s","x":2.083,"y":0.554},{"p":"d","g":"ds14","k":"s","x":1.877,"y":0.532},{"p":"d","g":"ds14","k":"s","x":1.766,"y":0.625},{"p":"d","g":"ds14","k":"s","x":1.76,"y":0.855},{"p":"d","g":"ds14","k":"s","x":1.745,"y":0.902},
{"p":"d","g":"ds15","k":"s","x":1.837,"y":1.086},{"p":"d","g":"ds15","k":"s","x":1.815,"y":1.255},{"p":"d","g":"ds15","k":"s","x":1.868,"y":1.465},{"p":"d","g":"ds15","k":"s","x":2.083,"y":1.24},{"p":"d","g":"ds15","k":"s","x":2.135,"y":1.04},{"p":"d","g":"ds15","k":"s","x":2.083,"y":0.902},{"p":"d","g":"ds15","k":"s","x":1.877,"y":0.902},{"p":"d","g":"ds15","k":"s","x":1.837,"y":0.994},
{"p":"d","g":"ds16","k":"s","x":0.575,"y":0.425},{"p":"d","g":"ds16","k":"s","x":0.628,"y":0.462},{"p":"d","g":"ds16","k":"s","x":0.837,"y":0.449},{"p":"d","g":"ds16","k":"s","x":1.052,"y":0.286},{"p":"d","g":"ds16","k":"s","x":1.191,"y":0.203},{"p":"d","g":"ds16","k":"s","x":1.052,"y":0.092},{"p":"d","g":"ds16","k":"s","x":0.837,"y":0.071},{"p":"d","g":"ds16","k":"s","x":0.591,"y":0.194},{"p":"d","g":"ds16","k":"s","x":0.575,"y":0.425},
{"p":"d","g":"dd1","k":"d","x":0.02,"y":2.62},{"p":"d","g":"dd1","k":"d","x":0.12,"y":2.58},{"p":"d","g":"dd1","k":"d","x":0.25,"y":2.48},{"p":"d","g":"dd1","k":"d","x":0.32,"y":2.34},
{"p":"d","g":"dd2","k":"d","x":0,"y":2.5},{"p":"d","g":"dd2","k":"d","x":0.08,"y":2.48},{"p":"d","g":"dd2","k":"d","x":0.16,"y":2.4},{"p":"d","g":"dd2","k":"d","x":0.2,"y":2.25},{"p":"d","g":"dd2","k":"d","x":0.17,"y":2.1},{"p":"d","g":"dd2","k":"d","x":0.08,"y":2},{"p":"d","g":"dd2","k":"d","x":0,"y":1.97},
{"p":"d","g":"dd3","k":"d","x":0,"y":2.42},{"p":"d","g":"dd3","k":"d","x":0.06,"y":2.4},{"p":"d","g":"dd3","k":"d","x":0.12,"y":2.3},{"p":"d","g":"dd3","k":"d","x":0.13,"y":2.18},{"p":"d","g":"dd3","k":"d","x":0.08,"y":2.07},{"p":"d","g":"dd3","k":"d","x":0,"y":2.04},
{"p":"d","g":"dd4","k":"d","x":0,"y":2.34},{"p":"d","g":"dd4","k":"d","x":0.05,"y":2.3},{"p":"d","g":"dd4","k":"d","x":0.07,"y":2.2},{"p":"d","g":"dd4","k":"d","x":0.03,"y":2.12},{"p":"d","g":"dd4","k":"d","x":0,"y":2.1},
{"p":"d","g":"dd5","k":"d","x":0,"y":2.58},{"p":"d","g":"dd5","k":"d","x":0.1,"y":2.55},{"p":"d","g":"dd5","k":"d","x":0.2,"y":2.45},{"p":"d","g":"dd5","k":"d","x":0.25,"y":2.3},{"p":"d","g":"dd5","k":"d","x":0.24,"y":2.15},{"p":"d","g":"dd5","k":"d","x":0.16,"y":2.02},{"p":"d","g":"dd5","k":"d","x":0.05,"y":1.93},{"p":"d","g":"dd5","k":"d","x":0,"y":1.92},
{"p":"d","g":"de1","k":"d","x":1.11,"y":2.16},{"p":"d","g":"de1","k":"d","x":1.26,"y":2.09},{"p":"d","g":"de1","k":"d","x":1.28,"y":1.92},
{"p":"d","g":"de2","k":"d","x":0.94,"y":2.09},{"p":"d","g":"de2","k":"d","x":0.78,"y":2},{"p":"d","g":"de2","k":"d","x":0.68,"y":1.85},{"p":"d","g":"de2","k":"d","x":0.63,"y":1.65},{"p":"d","g":"de2","k":"d","x":0.64,"y":1.43},{"p":"d","g":"de2","k":"d","x":0.72,"y":1.3},{"p":"d","g":"de2","k":"d","x":0.8,"y":1.22},{"p":"d","g":"de2","k":"d","x":0.88,"y":1.19},
{"p":"d","g":"de3","k":"d","x":1,"y":2},{"p":"d","g":"de3","k":"d","x":0.86,"y":1.93},{"p":"d","g":"de3","k":"d","x":0.75,"y":1.8},{"p":"d","g":"de3","k":"d","x":0.7,"y":1.63},{"p":"d","g":"de3","k":"d","x":0.72,"y":1.48},{"p":"d","g":"de3","k":"d","x":0.8,"y":1.38},{"p":"d","g":"de3","k":"d","x":0.92,"y":1.32},{"p":"d","g":"de3","k":"d","x":1.04,"y":1.3},
{"p":"d","g":"de4","k":"d","x":1.05,"y":1.9},{"p":"d","g":"de4","k":"d","x":0.93,"y":1.85},{"p":"d","g":"de4","k":"d","x":0.83,"y":1.72},{"p":"d","g":"de4","k":"d","x":0.8,"y":1.6},{"p":"d","g":"de4","k":"d","x":0.85,"y":1.5},{"p":"d","g":"de4","k":"d","x":0.95,"y":1.45},{"p":"d","g":"de4","k":"d","x":1.05,"y":1.45},
{"p":"d","g":"de5","k":"d","x":1.1,"y":1.78},{"p":"d","g":"de5","k":"d","x":1,"y":1.75},{"p":"d","g":"de5","k":"d","x":0.92,"y":1.66},{"p":"d","g":"de5","k":"d","x":0.93,"y":1.57},{"p":"d","g":"de5","k":"d","x":1.02,"y":1.53},{"p":"d","g":"de5","k":"d","x":1.1,"y":1.55},
{"p":"d","g":"de6","k":"d","x":1.12,"y":1.92},{"p":"d","g":"de6","k":"d","x":1.28,"y":1.85},{"p":"d","g":"de6","k":"d","x":1.4,"y":1.72},{"p":"d","g":"de6","k":"d","x":1.45,"y":1.55},{"p":"d","g":"de6","k":"d","x":1.42,"y":1.4},{"p":"d","g":"de6","k":"d","x":1.35,"y":1.3},{"p":"d","g":"de6","k":"d","x":1.2,"y":1.22},{"p":"d","g":"de6","k":"d","x":1.08,"y":1.2},
{"p":"d","g":"de7","k":"d","x":1.15,"y":1.8},{"p":"d","g":"de7","k":"d","x":1.27,"y":1.73},{"p":"d","g":"de7","k":"d","x":1.35,"y":1.6},{"p":"d","g":"de7","k":"d","x":1.35,"y":1.48},{"p":"d","g":"de7","k":"d","x":1.28,"y":1.4},{"p":"d","g":"de7","k":"d","x":1.15,"y":1.37},
{"p":"d","g":"de8","k":"d","x":1.58,"y":1.12},{"p":"d","g":"de8","k":"d","x":1.55,"y":0.98},{"p":"d","g":"de8","k":"d","x":1.45,"y":0.85},{"p":"d","g":"de8","k":"d","x":1.33,"y":0.75},{"p":"d","g":"de8","k":"d","x":1.25,"y":0.68},
{"p":"d","g":"de9","k":"d","x":0.64,"y":1.04},{"p":"d","g":"de9","k":"d","x":0.72,"y":1.09},{"p":"d","g":"de9","k":"d","x":0.81,"y":1.15},{"p":"d","g":"de9","k":"d","x":0.88,"y":1.19},
{"p":"d","g":"de10","k":"d","x":0.67,"y":0.98},{"p":"d","g":"de10","k":"d","x":0.7,"y":0.86},
{"p":"d","g":"de11","k":"d","x":0.82,"y":0.87},{"p":"d","g":"de11","k":"d","x":0.95,"y":0.8},{"p":"d","g":"de11","k":"d","x":1.08,"y":0.76},{"p":"d","g":"de11","k":"d","x":1.2,"y":0.72},{"p":"d","g":"de11","k":"d","x":1.27,"y":0.65},
{"p":"d","g":"de12","k":"d","x":0.95,"y":0.74},{"p":"d","g":"de12","k":"d","x":1.05,"y":0.69},{"p":"d","g":"de12","k":"d","x":1.18,"y":0.62},{"p":"d","g":"de12","k":"d","x":1.24,"y":0.55},{"p":"d","g":"de12","k":"d","x":1.31,"y":0.54},{"p":"d","g":"de12","k":"d","x":1.45,"y":0.55},
{"p":"d","g":"de13","k":"d","x":0.98,"y":1.08},{"p":"d","g":"de13","k":"d","x":1.15,"y":1.04},{"p":"d","g":"de13","k":"d","x":1.3,"y":1},{"p":"d","g":"de13","k":"d","x":1.42,"y":0.95},{"p":"d","g":"de13","k":"d","x":1.5,"y":1.05},{"p":"d","g":"de13","k":"d","x":1.52,"y":1.2},
{"p":"d","g":"de14","k":"d","x":0.95,"y":1.25},{"p":"d","g":"de14","k":"d","x":1.05,"y":1.14},{"p":"d","g":"de14","k":"d","x":1.2,"y":1.12},{"p":"d","g":"de14","k":"d","x":1.32,"y":1.18},
{"p":"d","g":"de15","k":"d","x":0.67,"y":1.55},{"p":"d","g":"de15","k":"d","x":0.69,"y":1.74},{"p":"d","g":"de15","k":"d","x":0.78,"y":1.9},{"p":"d","g":"de15","k":"d","x":0.92,"y":2.01},{"p":"d","g":"de15","k":"d","x":1.03,"y":2.05},
{"p":"d","g":"de16","k":"d","x":1.3,"y":2.0},{"p":"d","g":"de16","k":"d","x":1.42,"y":1.88},{"p":"d","g":"de16","k":"d","x":1.49,"y":1.7},{"p":"d","g":"de16","k":"d","x":1.51,"y":1.5},
{"p":"d","g":"de17","k":"d","x":0.76,"y":0.96},{"p":"d","g":"de17","k":"d","x":0.9,"y":0.93},{"p":"d","g":"de17","k":"d","x":1.05,"y":0.9},{"p":"d","g":"de17","k":"d","x":1.2,"y":0.87},{"p":"d","g":"de17","k":"d","x":1.35,"y":0.87},{"p":"d","g":"de17","k":"d","x":1.44,"y":0.9}
]}
}
